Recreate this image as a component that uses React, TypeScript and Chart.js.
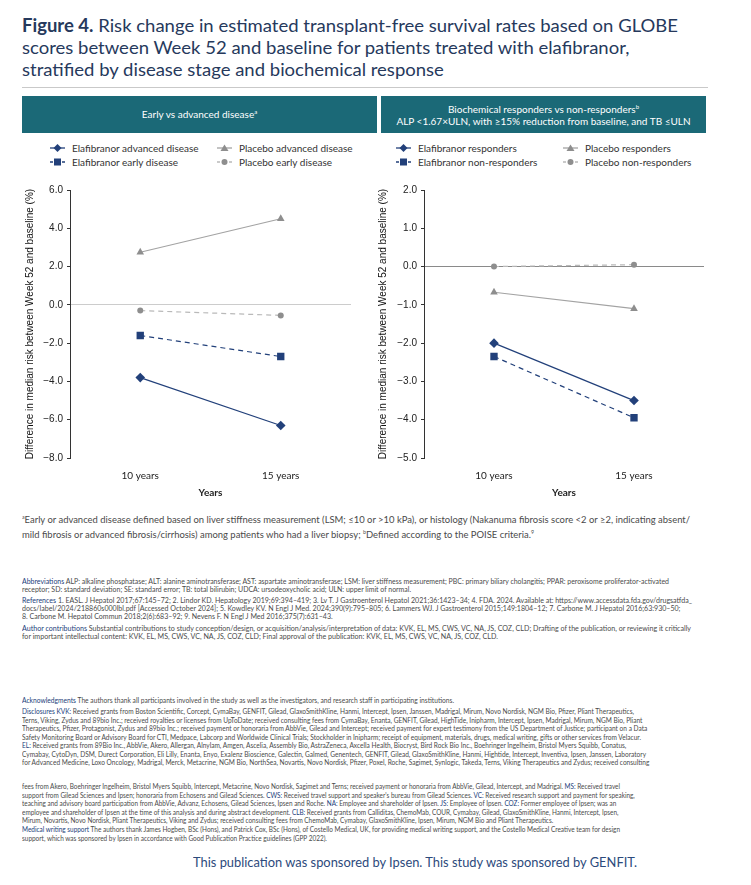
import React, { useEffect, useLayoutEffect, useRef, useState } from 'react';
import { Chart, registerables } from 'chart.js';

Chart.register(...registerables);

// ---------- DATA ----------
const categories = ['10 years', '15 years'];

// Panel A: early vs advanced disease
const elafAdvanced = [-3.8, -6.3];
const elafEarly = [-1.6, -2.7];
const placeboAdvanced = [2.75, 4.5];
const placeboEarly = [-0.3, -0.55];

// Panel B: biochemical responders vs non-responders
const elafResponders = [-2.0, -3.5];
const elafNonResponders = [-2.35, -3.95];
const placeboResponders = [-0.67, -1.1];
const placeboNonResponders = [0.0, 0.05];

const yRangeA = [-8, 6, 2];
const yRangeB = [-5, 2, 1];

const legendA = ['Elafibranor advanced disease', 'Placebo advanced disease', 'Elafibranor early disease', 'Placebo early disease'];
const legendB = ['Elafibranor responders', 'Placebo responders', 'Elafibranor non-responders', 'Placebo non-responders'];

const yTitle = 'Difference in median risk between Week 52 and baseline (%)';
const xTitle = 'Years';

// ---------- STYLE ----------
const NAVY = '#22407a';
const TITLE_NAVY = '#26395c';
const TEAL = '#1b6977';
const GRAY_MARK = '#8e8e8e';
const GRAY_LINE = '#a3a3a3';
const GRAY_DASH = '#b9b9b9';
const TEXT = '#4a4a4a';

type Geo = { yWidth: number; padRight: number; titlePad: number; zeroColor: string };

function makeDatasets(elafSolid: number[], elafDash: number[], plSolid: number[], plDash: number[], labels: string[]) {
  return [
    { label: labels[2], data: elafDash, borderColor: NAVY, backgroundColor: NAVY, borderWidth: 1.2, borderDash: [5, 4], pointStyle: 'rect', pointRadius: 5.2, pointBorderWidth: 0 },
    { label: labels[3], data: plDash, borderColor: GRAY_DASH, backgroundColor: GRAY_MARK, borderWidth: 1.2, borderDash: [5, 4], pointStyle: 'circle', pointRadius: 3, pointBorderWidth: 0 },
    { label: labels[1], data: plSolid, borderColor: GRAY_LINE, backgroundColor: GRAY_MARK, borderWidth: 1.2, pointStyle: 'triangle', pointRadius: 4.4, pointBorderWidth: 0 },
    { label: labels[0], data: elafSolid, borderColor: NAVY, backgroundColor: NAVY, borderWidth: 1.2, pointStyle: 'rectRot', pointRadius: 4.8, pointBorderWidth: 0 },
  ];
}

function fmt(v: number) {
  return (v < 0 ? '\u2212' : '') + Math.abs(v).toFixed(1);
}

function LineChart({ datasets, range, geo, left, top, width, height }: any) {
  const ref = useRef<HTMLCanvasElement>(null);
  useEffect(() => {
    if (!ref.current) return;
    const chart = new Chart(ref.current, {
      type: 'line',
      data: { labels: categories, datasets },
      options: {
        animation: false,
        responsive: false,
        devicePixelRatio: 1,
        layout: { padding: { top: 9, right: geo.padRight, left: 0, bottom: 0 } },
        plugins: { legend: { display: false }, tooltip: { enabled: false } },
        scales: {
          x: {
            type: 'category',
            offset: true,
            grid: { display: false, drawTicks: false },
            border: { display: false },
            ticks: { padding: 12, color: '#222', font: { family: 'Lato', size: 10 } },
            title: { display: true, text: xTitle, color: '#222', padding: { top: 0, bottom: 1 }, font: { family: 'Lato', size: 10, weight: 'bold' } },
            afterFit: (s: any) => { s.height = 42; },
          },
          y: {
            min: range[0],
            max: range[1],
            ticks: { stepSize: range[2], padding: 4, color: '#222', font: { family: 'Liberation Sans', size: 10 }, callback: (v: any) => fmt(Number(v)) },
            grid: {
              drawTicks: true,
              tickLength: 3,
              tickColor: '#333',
              lineWidth: 1,
              color: (c: any) => (c.tick && c.tick.value === 0 ? geo.zeroColor : 'rgba(0,0,0,0)'),
            },
            border: { display: true, color: '#333', width: 1 },
            title: { display: true, text: yTitle, color: '#111', padding: { top: geo.titlePad, bottom: 0 }, font: { family: 'Liberation Sans', size: 10 } },
            afterFit: (s: any) => { s.width = geo.yWidth; },
          },
        },
      } as any,
    });
    return () => chart.destroy();
  }, []);
  return <canvas ref={ref} width={width} height={height} style={{ position: 'absolute', left, top, width, height }} />;
}

function Marker({ shape, dashed, color, lineColor }: any) {
  const w = 15, h = 10, cx = 7.5, cy = 5;
  let mark: any = null;
  if (shape === 'diamond') mark = <polygon points={`${cx - 4},${cy} ${cx},${cy - 4} ${cx + 4},${cy} ${cx},${cy + 4}`} fill={color} />;
  if (shape === 'square') mark = <rect x={cx - 3.5} y={cy - 3.5} width={7} height={7} fill={color} />;
  if (shape === 'triangle') mark = <polygon points={`${cx - 4},${cy + 3} ${cx + 4},${cy + 3} ${cx},${cy - 3.5}`} fill={color} />;
  if (shape === 'circle') mark = <circle cx={cx} cy={cy} r={3} fill={color} />;
  return (
    <svg width={w} height={h} style={{ display: 'block' }}>
      <line x1={0} y1={cy} x2={w} y2={cy} stroke={lineColor} strokeWidth={1.3} strokeDasharray={dashed ? '3 3' : undefined} />
      {mark}
    </svg>
  );
}

function LegendItem({ x, y, shape, dashed, color, lineColor, text }: any) {
  return (
    <div style={{ position: 'absolute', left: x, top: y - 7, height: 14, display: 'flex', alignItems: 'center', whiteSpace: 'nowrap', fontFamily: 'Lato', fontSize: 10, color: '#333' }}>
      <Marker shape={shape} dashed={dashed} color={color} lineColor={lineColor} />
      <span style={{ marginLeft: 7 }}>{text}</span>
    </div>
  );
}

function Legend({ x1, x2, labels }: any) {
  return (
    <>
      <LegendItem x={x1} y={148} shape="diamond" color={NAVY} lineColor={NAVY} text={labels[0]} />
      <LegendItem x={x2} y={148} shape="triangle" color={GRAY_MARK} lineColor={GRAY_LINE} text={labels[1]} />
      <LegendItem x={x1} y={162} shape="square" dashed color={NAVY} lineColor={NAVY} text={labels[2]} />
      <LegendItem x={x2} y={162} shape="circle" dashed color={GRAY_MARK} lineColor={GRAY_DASH} text={labels[3]} />
    </>
  );
}

function TextBlock({ left, top, lineHeight, fontSize, color, targetWidth, lines, family, weight }: any) {
  const ref = useRef<HTMLDivElement>(null);
  const [scale, setScale] = useState(1);
  useLayoutEffect(() => {
    const first = ref.current?.querySelector('span.l0') as HTMLElement | null;
    if (first && targetWidth) {
      const w = first.getBoundingClientRect().width;
      if (w > 0) setScale(targetWidth / w);
    }
  }, []);
  return (
    <div
      ref={ref}
      style={{
        position: 'absolute', left, top, transform: `scaleX(${scale})`, transformOrigin: 'left top',
        fontFamily: family || 'Lato', fontSize, fontWeight: weight || 'normal', lineHeight: lineHeight + 'px', color, whiteSpace: 'nowrap',
      }}
    >
      {lines.map((l: any, i: number) => (
        <div key={i}><span className={i === 0 ? 'l0' : ''}>{l}</span></div>
      ))}
    </div>
  );
}

const B = ({ children }: any) => <span style={{ color: NAVY }}>{children}</span>;

export default function App() {
  const dsA = makeDatasets(elafAdvanced, elafEarly, placeboAdvanced, placeboEarly, legendA);
  const dsB = makeDatasets(elafResponders, elafNonResponders, placeboResponders, placeboNonResponders, legendB);
  return (
    <div style={{ position: 'absolute', left: 0, top: 0, width: 751, height: 885, background: '#fff', overflow: 'hidden' }}>
      <TextBlock
        left={22} top={14} lineHeight={22} fontSize={18} color={TITLE_NAVY} targetWidth={656}
        lines={[
          <><b>Figure 4.</b> Risk change in estimated transplant-free survival rates based on GLOBE</>,
          'scores between Week 52 and baseline for patients treated with elafibranor,',
          'stratified by disease stage and biochemical response',
        ]}
      />
      <div style={{ position: 'absolute', left: 22, top: 87, width: 686, height: 1, background: '#c9c9c9' }} />

      <div style={{ position: 'absolute', left: 22, top: 96, width: 355, height: 37, background: TEAL, color: '#fff', fontFamily: 'Lato', fontSize: 10, display: 'flex', alignItems: 'center', justifyContent: 'center' }}>
        <span>Early vs advanced disease<sup style={{ fontSize: 6 }}>a</sup></span>
      </div>
      <div style={{ position: 'absolute', left: 381, top: 96, width: 325, height: 37, background: TEAL, color: '#fff', fontFamily: 'Lato', fontSize: 10, lineHeight: '12px', display: 'flex', flexDirection: 'column', alignItems: 'center', justifyContent: 'center', textAlign: 'center' }}>
        <div>Biochemical responders vs non-responders<sup style={{ fontSize: 6, lineHeight: 0 }}>b</sup></div>
        <div>ALP &lt;1.67×ULN, with ≥15% reduction from baseline, and TB ≤ULN</div>
      </div>

      <Legend x1={50} x2={217} labels={legendA} />
      <Legend x1={396} x2={563} labels={legendB} />

      <LineChart datasets={dsA} range={yRangeA} geo={{ yWidth: 70, padRight: 24, titlePad: 24, zeroColor: '#cccccc' }} left={0} top={180} width={375} height={320} />
      <LineChart datasets={dsB} range={yRangeB} geo={{ yWidth: 49, padRight: 47, titlePad: 2, zeroColor: '#8a8a8a' }} left={375} top={180} width={376} height={320} />

      <TextBlock
        left={22} top={511} lineHeight={12} fontSize={9} color={TEXT} targetWidth={668}
        lines={[
          <><sup style={{ fontSize: 5 }}>a</sup>Early or advanced disease defined based on liver stiffness measurement (LSM; ≤10 or &gt;10 kPa), or histology (Nakanuma fibrosis score &lt;2 or ≥2, indicating absent/</>,
          <>mild fibrosis or advanced fibrosis/cirrhosis) among patients who had a liver biopsy; <sup style={{ fontSize: 5 }}>b</sup>Defined according to the POISE criteria.<sup style={{ fontSize: 5 }}>9</sup></>,
        ]}
      />

      <TextBlock
        left={22} top={577} lineHeight={8} fontSize={7} color={TEXT} targetWidth={647}
        lines={[
          <><B>Abbreviations</B> ALP: alkaline phosphatase; ALT: alanine aminotransferase; AST: aspartate aminotransferase; LSM: liver stiffness measurement; PBC: primary biliary cholangitis; PPAR: peroxisome proliferator-activated</>,
          'receptor; SD: standard deviation; SE: standard error; TB: total bilirubin; UDCA: ursodeoxycholic acid; ULN: upper limit of normal.',
        ]}
      />
      <TextBlock
        left={22} top={596} lineHeight={8} fontSize={7} color={TEXT} targetWidth={670}
        lines={[
          <><B>References</B> 1. EASL. J Hepatol 2017;67:145–72; 2. Lindor KD. Hepatology 2019;69:394–419; 3. Lv T. J Gastroenterol Hepatol 2021;36:1423–34; 4. FDA. 2024. Available at: https://www.accessdata.fda.gov/drugsatfda_</>,
          'docs/label/2024/218860s000lbl.pdf [Accessed October 2024]; 5. Kowdley KV. N Engl J Med. 2024;390(9):795–805; 6. Lammers WJ. J Gastroenterol 2015;149:1804–12; 7. Carbone M. J Hepatol 2016;63:930–50;',
          '8. Carbone M. Hepatol Commun 2018;2(6):683–92; 9. Nevens F. N Engl J Med 2016;375(7):631–43.',
        ]}
      />
      <TextBlock
        left={22} top={624} lineHeight={8} fontSize={7} color={TEXT} targetWidth={669}
        lines={[
          <><B>Author contributions</B> Substantial contributions to study conception/design, or acquisition/analysis/interpretation of data: KVK, EL, MS, CWS, VC, NA, JS, COZ, CLD; Drafting of the publication, or reviewing it critically</>,
          'for important intellectual content: KVK, EL, MS, CWS, VC, NA, JS, COZ, CLD; Final approval of the publication: KVK, EL, MS, CWS, VC, NA, JS, COZ, CLD.',
        ]}
      />

      <TextBlock
        left={22} top={696} lineHeight={8.5} fontSize={7} color={TEXT} targetWidth={432}
        lines={[
          <><B>Acknowledgments</B> The authors thank all participants involved in the study as well as the investigators, and research staff in participating institutions.</>,
        ]}
      />
      <TextBlock
        left={22} top={707} lineHeight={8.5} fontSize={7} color={TEXT} targetWidth={612}
        lines={[
          <><B>Disclosures</B> <B>KVK:</B> Received grants from Boston Scientific, Corcept, CymaBay, GENFIT, Gilead, GlaxoSmithKline, Hanmi, Intercept, Ipsen, Janssen, Madrigal, Mirum, Novo Nordisk, NGM Bio, Pfizer, Pliant Therapeutics,</>,
          'Terns, Viking, Zydus and 89bio Inc.; received royalties or licenses from UpToDate; received consulting fees from CymaBay, Enanta, GENFIT, Gilead, HighTide, Inipharm, Intercept, Ipsen, Madrigal, Mirum, NGM Bio, Pliant',
          'Therapeutics, Pfizer, Protagonist, Zydus and 89bio Inc.; received payment or honoraria from AbbVie, Gilead and Intercept; received payment for expert testimony from the US Department of Justice; participant on a Data',
          'Safety Monitoring Board or Advisory Board for CTI, Medpace, Labcorp and Worldwide Clinical Trials; Stockholder in Inipharm; receipt of equipment, materials, drugs, medical writing, gifts or other services from Velacur.',
          <><B>EL:</B> Received grants from 89Bio Inc., AbbVie, Akero, Allergan, Alnylam, Amgen, Ascelia, Assembly Bio, AstraZeneca, Axcella Health, Biocryst, Bird Rock Bio Inc., Boehringer Ingelheim, Bristol Myers Squibb, Conatus,</>,
          'Cymabay, CytoDyn, DSM, Durect Corporation, Eli Lilly, Enanta, Enyo, Exalenz Bioscience, Galectin, Galmed, Genentech, GENFIT, Gilead, GlaxoSmithKline, Hanmi, Hightide, Intercept, Inventiva, Ipsen, Janssen, Laboratory',
          'for Advanced Medicine, Loxo Oncology, Madrigal, Merck, Metacrine, NGM Bio, NorthSea, Novartis, Novo Nordisk, Pfizer, Poxel, Roche, Sagimet, Synlogic, Takeda, Terns, Viking Therapeutics and Zydus; received consulting',
        ]}
      />
      <TextBlock
        left={22} top={782} lineHeight={8.5} fontSize={7} color={TEXT} targetWidth={598}
        lines={[
          <>fees from Akero, Boehringer Ingelheim, Bristol Myers Squibb, Intercept, Metacrine, Novo Nordisk, Sagimet and Terns; received payment or honoraria from AbbVie, Gilead, Intercept, and Madrigal. <B>MS:</B> Received travel</>,
          <>support from Gilead Sciences and Ipsen; honoraria from Echosens and Gilead Sciences. <B>CWS:</B> Received travel support and speaker's bureau from Gilead Sciences. <B>VC:</B> Received research support and payment for speaking,</>,
          <>teaching and advisory board participation from AbbVie, Advanz, Echosens, Gilead Sciences, Ipsen and Roche. <B>NA:</B> Employee and shareholder of Ipsen. <B>JS:</B> Employee of Ipsen. <B>COZ:</B> Former employee of Ipsen; was an</>,
          <>employee and shareholder of Ipsen at the time of this analysis and during abstract development. <B>CLB:</B> Received grants from Calliditas, ChemoMab, COUR, Cymabay, Gilead, GlaxoSmithKline, Hanmi, Intercept, Ipsen,</>,
          'Mirum, Novartis, Novo Nordisk, Pliant Therapeutics, Viking and Zydus; received consulting fees from ChemoMab, Cymabay, GlaxoSmithKline, Ipsen, Mirum, NGM Bio and Pliant Therapeutics.',
        ]}
      />
      <TextBlock
        left={22} top={825} lineHeight={8.5} fontSize={7} color={TEXT} targetWidth={598}
        lines={[
          <><B>Medical writing support</B> The authors thank James Hogben, BSc (Hons), and Patrick Cox, BSc (Hons), of Costello Medical, UK, for providing medical writing support, and the Costello Medical Creative team for design</>,
          'support, which was sponsored by Ipsen in accordance with Good Publication Practice guidelines (GPP 2022).',
        ]}
      />

      <TextBlock
        left={193} top={854} lineHeight={16} fontSize={13} color="#2c4a7c" targetWidth={444}
        lines={['This publication was sponsored by Ipsen. This study was sponsored by GENFIT.']}
      />
    </div>
  );
}
